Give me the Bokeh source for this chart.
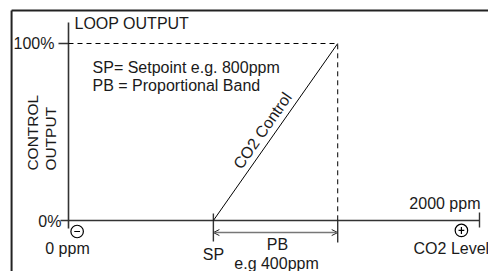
import math
from bokeh.plotting import figure
from bokeh.models import Range1d, Arrow, OpenHead
from bokeh.core.properties import value
from bokeh.embed import file_html
from bokeh.resources import INLINE

# ---- data (schematic positions) ----
co2_axis = [0, 2000]            # ppm, axis ends
output_axis = [0, 100]          # % loop output
sp_pos = 705                    # setpoint position on schematic axis
pb_end = 1310                   # end of proportional band on schematic axis
control_x = [sp_pos, pb_end]
control_y = [0, 100]
y_tick_labels = ["0%", "100%"]
x_end_labels = ["0 ppm", "2000 ppm"]
notes = ["SP= Setpoint e.g. 800ppm", "PB = Proportional Band"]

FONT = value("Liberation Sans")
TXT = "#1a1a1a"
AX = "#333333"

p = figure(width=488, height=271, x_range=Range1d(-330.9, 2043.8), y_range=Range1d(-28.8, 124.3),
           output_backend="svg", toolbar_location=None, min_border=0,
           x_axis_type=None, y_axis_type=None)
p.grid.visible = False
p.outline_line_color = None
p.background_fill_color = "white"
p.border_fill_color = "white"

# frame border (top and left visible)
p.segment(x0=[-277, -277], y0=[118.6, 118.6], x1=[2300, -277], y1=[118.6, -60],
          line_color="#222222", line_width=2)

# axes
p.segment(x0=[co2_axis[0]], y0=[111.9], x1=[co2_axis[0]], y1=[-4.5], line_color=AX, line_width=1.6)
p.segment(x0=[-39], y0=[output_axis[0]], x1=[co2_axis[1]], y1=[output_axis[0]], line_color=AX, line_width=1.6)
p.segment(x0=[-48.7], y0=[output_axis[1]], x1=[co2_axis[0]], y1=[output_axis[1]], line_color=AX, line_width=1.4)
# ticks
p.segment(x0=[sp_pos, pb_end, co2_axis[1]], y0=[4, 0, 4.5], x1=[sp_pos, pb_end, co2_axis[1]], y1=[-11.9, -12.4, -4],
          line_color=AX, line_width=1.4)

# dashed guides
p.line(x=[co2_axis[0], pb_end, pb_end], y=[output_axis[1], output_axis[1], output_axis[0]],
       line_color="black", line_width=1, line_dash="5 4")

# control line
p.line(x=control_x, y=control_y, line_color="black", line_width=1)

# PB arrow
p.add_layout(Arrow(x_start=sp_pos, y_start=-6.8, x_end=pb_end, y_end=-6.8,
                   line_color="#777777", line_width=1.5,
                   start=OpenHead(size=6, line_color="#222222", line_width=1),
                   end=OpenHead(size=6, line_color="#222222", line_width=1)))

def txt(x, y, t, align="left", baseline="middle", size="16px", angle=0, xo=0, yo=0):
    p.text(x=[x], y=[y], text=[t], text_font=FONT, text_font_size=size, text_color=TXT,
           text_align=align, text_baseline=baseline, angle=angle, x_offset=xo, y_offset=yo)

txt(co2_axis[0], 111.3, "LOOP OUTPUT", xo=6)
txt(co2_axis[0], output_axis[1], y_tick_labels[1], align="right", xo=-14)
txt(co2_axis[0], output_axis[0], y_tick_labels[0], align="right", xo=-7, yo=1)
txt(-175, 28.2, "CONTROL", angle=math.pi / 2, size="15.5px")
txt(-87.6, 28.2, "OUTPUT", angle=math.pi / 2, size="15.5px")
txt(117, 86.4, notes[0])
txt(117, 76.3, notes[1])
txt(944, 50.8, "CO2 Control", align="center", angle=math.atan2(177, 124), size="16px")
txt(co2_axis[1], 9.6, x_end_labels[1], align="right", xo=1)
txt(1679, -15.8, "CO2 Level")
txt(co2_axis[0], -15.8, x_end_labels[0], align="center", xo=-1)
txt(sp_pos, -19.2, "SP", align="center")
mid = (sp_pos + pb_end) / 2
txt(mid, -13.6, "PB", align="center", xo=2)
txt(mid, -24.3, "e.g 400ppm", align="center", xo=1)

# minus / plus symbols
p.scatter(x=[42, 1912], y=[-6.2, -5.6], marker="circle", size=12.5, fill_color=None,
          line_color="black", line_width=1.2)
p.segment(x0=[42 - 14, 1912 - 14, 1912], y0=[-6.2, -5.6, -5.6 + 2.0], x1=[42 + 14, 1912 + 14, 1912],
          y1=[-6.2, -5.6, -5.6 - 2.0], line_color="black", line_width=1.2)

open("out.html", "w").write(file_html(p, INLINE))
